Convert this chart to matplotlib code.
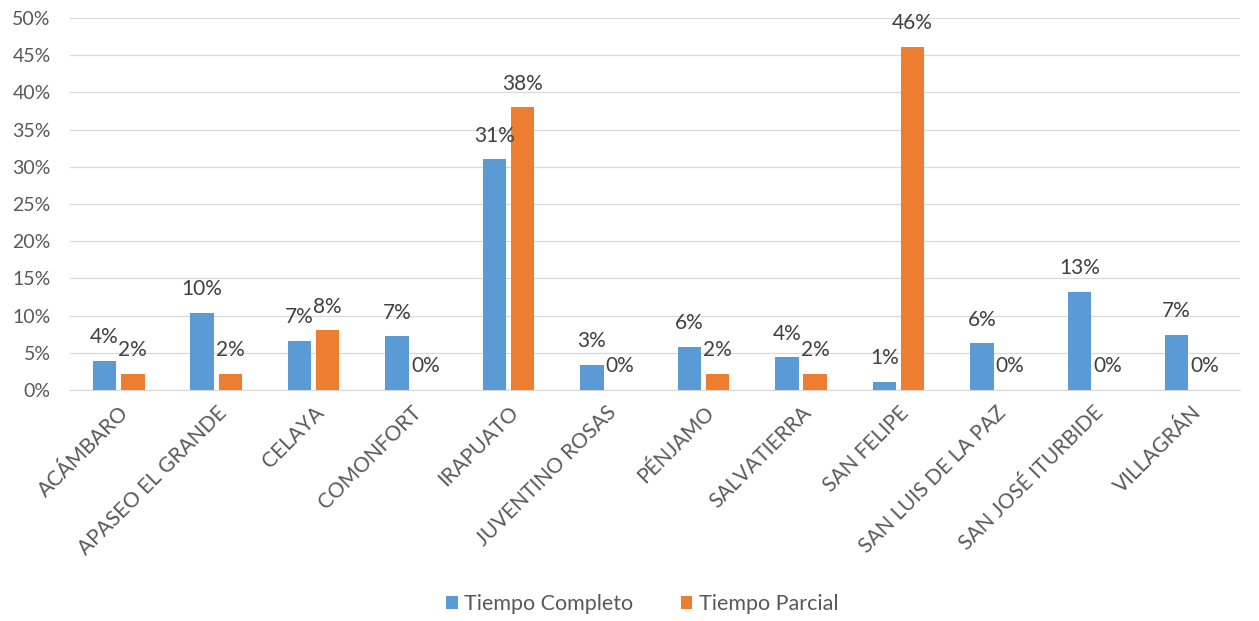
import matplotlib
matplotlib.use("Agg")
import matplotlib.pyplot as plt
import numpy as np

categories = ["ACÁMBARO", "APASEO EL GRANDE", "CELAYA", "COMONFORT", "IRAPUATO",
              "JUVENTINO ROSAS", "PÉNJAMO", "SALVATIERRA", "SAN FELIPE",
              "SAN LUIS DE LA PAZ", "SAN JOSÉ ITURBIDE", "VILLAGRÁN"]
completo = [3.9, 10.4, 6.6, 7.2, 31.0, 3.4, 5.8, 4.4, 1.1, 6.3, 13.2, 7.4]
parcial = [2.15, 2.15, 8.0, 0.0, 38.0, 0.0, 2.15, 2.15, 46.1, 0.0, 0.0, 0.0]
yticks = [0, 5, 10, 15, 20, 25, 30, 35, 40, 45, 50]

plt.rcParams['font.family'] = ['Lato', 'DejaVu Sans']
txt = '#595959'
c_blue = '#5B9BD5'
c_orange = '#ED7D31'

fig = plt.figure(figsize=(12.59, 6.21), dpi=100)
ax = fig.add_axes([0.0556, 0.372, 0.929, 0.599])

x = np.arange(len(categories))
w = 0.24
gap = 0.025
b1 = ax.bar(x - w/2 - gap, completo, w, color=c_blue, label='Tiempo Completo', zorder=3)
b2 = ax.bar(x + w/2 + gap, parcial, w, color=c_orange, label='Tiempo Parcial', zorder=3)

for bars, vals in ((b1, completo), (b2, parcial)):
    for r, v in zip(bars, vals):
        ax.annotate(f"{round(v):d}%", (r.get_x() + r.get_width()/2, v),
                    xytext=(0, 17), textcoords='offset points',
                    ha='center', va='center', fontsize=15, color='#404040')

ax.set_xlim(-0.5, len(categories) - 0.5)
ax.set_ylim(0, 50)
ax.set_yticks(yticks)
ax.set_yticklabels([f"{t}%" for t in yticks], fontsize=14, color=txt)
ax.yaxis.grid(True, color='#D9D9D9', linewidth=0.9, zorder=0)
ax.set_axisbelow(True)
ax.tick_params(axis='both', length=0)
ax.tick_params(axis='y', pad=14)
for s in ['top', 'right', 'left']:
    ax.spines[s].set_visible(False)
ax.spines['bottom'].set_color('#D9D9D9')
ax.spines['bottom'].set_linewidth(0.9)

ax.set_xticks(x)
ax.set_xticklabels(categories, rotation=45, ha='right', va='top',
                   rotation_mode='anchor', fontsize=15, color=txt)
ax.tick_params(axis='x', pad=9)

fig.legend(handles=[b1, b2], loc='center', bbox_to_anchor=(0.51, 0.027), ncol=2,
           frameon=False, fontsize=15.5, labelcolor=txt, handlelength=0.55,
           handleheight=0.55, handletextpad=0.3, columnspacing=2.2)

fig.savefig("out.png", dpi=100, facecolor='white')
